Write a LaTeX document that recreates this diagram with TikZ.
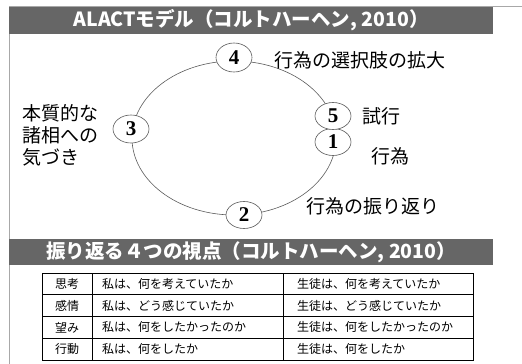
\documentclass[tikz,border=0pt]{standalone}
\usepackage{fontspec}
\setmainfont{Noto Sans CJK JP}
\newfontfamily\numfont{Liberation Serif}
\usetikzlibrary{shapes.geometric}

\definecolor{bargray}{HTML}{666666}
\definecolor{linegray}{HTML}{5A5A5A}
\definecolor{framegray}{HTML}{A8A8A8}

\begin{document}
\begin{tikzpicture}[
    x=1pt, y=-1pt,
    heading/.style={fill=bargray, text=white, anchor=north west, inner sep=0pt, minimum width=484pt, font=\bfseries\fontsize{19.5}{19.5}\selectfont},
    stage/.style={ellipse, draw=linegray, fill=white, line width=0.6pt, minimum width=36pt, minimum height=27pt, inner sep=0pt, font=\numfont\bfseries\fontsize{21}{21}\selectfont},
    phasetext/.style={anchor=west, inner sep=0pt, align=left, font=\fontsize{19}{22}\selectfont},
    cell/.style={draw, line width=0.8pt, anchor=north west, outer sep=0pt, minimum height=21.75pt, inner ysep=0pt, font=\fontsize{12}{12}\selectfont}
]
\useasboundingbox (0,0) rectangle (522,364);

% Frame
\draw[framegray, line width=0.8pt] (522,6) -- (9,6) -- (9,364);

% Headings
\node[heading, minimum height=27.5pt] (title) at (9,6.5) {ALACTモデル（コルトハーヘン, 2010）};
\node[heading, minimum height=26.5pt] (subtitle) at (9,238.5) {振り返る４つの視点（コルトハーヘン, 2010）};

% Cycle
\coordinate (hub) at (234,138);
\draw[linegray, line width=0.6pt] (hub) ellipse [x radius=102pt, y radius=77pt];

% Stages
\node[stage, minimum height=29pt] (s4) at (234,57.5) {4};
\node[stage, minimum height=28pt] (s3) at (131,129) {3};
\node[stage] (s1) at (333,142) {1};
\node[stage] (s5) at (333,116) {5};
\node[stage] (s2) at (244,215) {2};

% Stage texts
\node[phasetext] (t4) at (274,60) {行為の選択肢の拡大};
\node[phasetext] (t5) at (362,116) {試行};
\node[phasetext] (t1) at (371,156) {行為};
\node[phasetext] (t2) at (306,206) {行為の振り返り};
\node[phasetext] (t3) at (22,135) {本質的な\\諸相への\\気づき};

% Table
\foreach \r/\kind/\self/\pupil in {0/思考/私は、何を考えていたか/生徒は、何を考えていたか,
    1/感情/私は、どう感じていたか/生徒は、どう感じていたか,
    2/望み/私は、何をしたかったのか/生徒は、何をしたかったのか,
    3/行動/私は、何をしたか/生徒は、何をしたか}{
  \node[cell, minimum width=50pt] (k\r) at (42,273+21.75*\r) {\kind};
  \node[cell, text width=171pt, inner xsep=10pt, align=left] (m\r) at (k\r.north east) {\self};
  \node[cell, text width=162pt, inner xsep=14pt, align=left] (p\r) at (m\r.north east) {\pupil};
}

\end{tikzpicture}
\end{document}
